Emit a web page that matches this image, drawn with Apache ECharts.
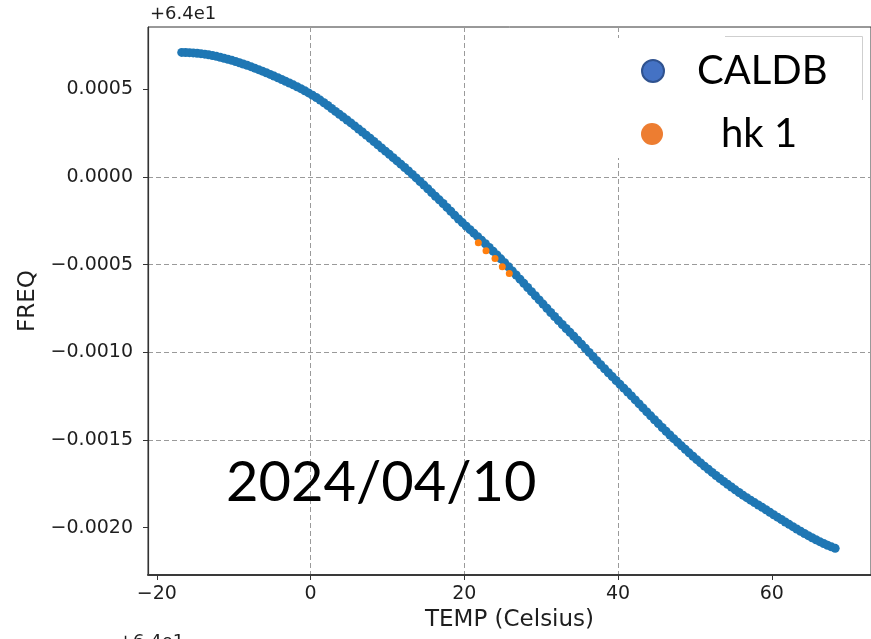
<!DOCTYPE html>
<html>
<head>
<meta charset="utf-8">
<script src="https://cdn.jsdelivr.net/npm/echarts@6/dist/echarts.min.js"></script>
<style>
  html, body { margin: 0; padding: 0; background: #fff; }
  #chart { width: 871px; height: 639px; }
</style>
</head>
<body>
<div id="chart"></div>
<script>
// Calibration table: oscillator frequency offset (relative to 64) vs. temperature
const caldbTemp = [
  -16.75, -16.25, -15.75, -15.25, -14.75, -14.25, -13.75, -13.25, -12.75, -12.25,
  -11.75, -11.25, -10.75, -10.25, -9.75, -9.25, -8.75, -8.25, -7.75, -7.25,
  -6.75, -6.25, -5.75, -5.25, -4.75, -4.25, -3.75, -3.25, -2.75, -2.25,
  -1.75, -1.25, -0.75, -0.25,
  0.25, 0.75, 1.25, 1.75, 2.25, 2.75, 3.25, 3.75, 4.25, 4.75,
  5.25, 5.75, 6.25, 6.75, 7.25, 7.75, 8.25, 8.75, 9.25, 9.75,
  10.25, 10.75, 11.25, 11.75, 12.25, 12.75, 13.25, 13.75, 14.25, 14.75,
  15.25, 15.75, 16.25, 16.75, 17.25, 17.75, 18.25, 18.75, 19.25, 19.75,
  20.25, 20.75, 21.25, 21.75, 22.25, 22.75, 23.25, 23.75, 24.25, 24.75,
  25.25, 25.75, 26.25, 26.75, 27.25, 27.75, 28.25, 28.75, 29.25, 29.75,
  30.25, 30.75, 31.25, 31.75, 32.25, 32.75, 33.25, 33.75, 34.25, 34.75,
  35.25, 35.75, 36.25, 36.75, 37.25, 37.75, 38.25, 38.75, 39.25, 39.75,
  40.25, 40.75, 41.25, 41.75, 42.25, 42.75, 43.25, 43.75, 44.25, 44.75,
  45.25, 45.75, 46.25, 46.75, 47.25, 47.75, 48.25, 48.75, 49.25, 49.75,
  50.25, 50.75, 51.25, 51.75, 52.25, 52.75, 53.25, 53.75, 54.25, 54.75,
  55.25, 55.75, 56.25, 56.75, 57.25, 57.75, 58.25, 58.75, 59.25, 59.75,
  60.25, 60.75, 61.25, 61.75, 62.25, 62.75, 63.25, 63.75, 64.25, 64.75,
  65.25, 65.75, 66.25, 66.75, 67.25, 67.75, 68.25
];
const caldbFreq = [
  0.0007101, 0.0007095, 0.0007085, 0.0007071, 0.0007052, 0.0007030, 0.0007000, 0.0006962, 0.0006921, 0.0006876,
  0.0006826, 0.0006771, 0.0006713, 0.0006651, 0.0006583, 0.0006512, 0.0006440, 0.0006366, 0.0006287, 0.0006204,
  0.0006119, 0.0006030, 0.0005939, 0.0005845, 0.0005750, 0.0005653, 0.0005554, 0.0005454, 0.0005354, 0.0005251,
  0.0005144, 0.0005033, 0.0004916, 0.0004793,
  0.0004664, 0.0004527, 0.0004383, 0.0004232, 0.0004072, 0.0003904, 0.0003738, 0.0003576, 0.0003412, 0.0003247,
  0.0003079, 0.0002908, 0.0002735, 0.0002561, 0.0002384, 0.0002205, 0.0002022, 0.0001837, 0.0001653, 0.0001471,
  0.0001287, 0.0001101, 0.0000915, 0.0000727, 0.0000536, 0.0000342, 0.0000145, -0.0000054, -0.0000258, -0.0000466,
  -0.0000677, -0.0000891, -0.0001100, -0.0001306, -0.0001518, -0.0001738, -0.0001958, -0.0002181, -0.0002396, -0.0002604,
  -0.0002808, -0.0003007, -0.0003207, -0.0003407, -0.0003608, -0.0003810, -0.0004018, -0.0004232, -0.0004450, -0.0004672,
  -0.0004897, -0.0005125, -0.0005358, -0.0005595, -0.0005831, -0.0006068, -0.0006304, -0.0006541, -0.0006778, -0.0007014,
  -0.0007252, -0.0007491, -0.0007728, -0.0007962, -0.0008192, -0.0008417, -0.0008640, -0.0008863, -0.0009085, -0.0009307,
  -0.0009535, -0.0009769, -0.0010005, -0.0010241, -0.0010476, -0.0010710, -0.0010940, -0.0011165, -0.0011387, -0.0011607,
  -0.0011826, -0.0012046, -0.0012266, -0.0012489, -0.0012714, -0.0012942, -0.0013170, -0.0013398, -0.0013623, -0.0013846,
  -0.0014067, -0.0014286, -0.0014503, -0.0014717, -0.0014926, -0.0015131, -0.0015334, -0.0015533, -0.0015732, -0.0015928,
  -0.0016121, -0.0016309, -0.0016493, -0.0016672, -0.0016850, -0.0017027, -0.0017198, -0.0017363, -0.0017526, -0.0017685,
  -0.0017842, -0.0017996, -0.0018146, -0.0018291, -0.0018432, -0.0018569, -0.0018706, -0.0018843, -0.0018981, -0.0019121,
  -0.0019261, -0.0019400, -0.0019538, -0.0019675, -0.0019811, -0.0019945, -0.0020077, -0.0020208, -0.0020336, -0.0020458,
  -0.0020576, -0.0020690, -0.0020800, -0.0020906, -0.0021003, -0.0021095, -0.0021180
];

// Housekeeping readings
const hkTemp = [21.83, 22.83, 24.0, 24.95, 25.86];
const hkFreq = [-0.000376, -0.000421, -0.000465, -0.000512, -0.000550];

const seriesNames = ['CALDB', 'hk 1'];
const xTicks = [-20, 0, 20, 40, 60];
const yTicks = [-0.002, -0.0015, -0.001, -0.0005, 0, 0.0005];
const xTitle = 'TEMP (Celsius)';
const yTitle = 'FREQ';
const offsetText = '+6.4e1';
const dateText = '2024/04/10';

const pairs = (xs, ys) => xs.map((x, i) => [x, ys[i]]);
const fmtY = v => {
  const r = Math.round(v * 1e4) / 1e4;
  return (r < 0 ? '\u2212' : '') + Math.abs(r).toFixed(4);
};
const fmtX = v => (v < 0 ? '\u2212' : '') + Math.abs(v);

const axisFont = { fontFamily: 'DejaVu Sans', fontSize: 19, color: '#1e1e1e' };
const titleFont = { fontFamily: 'DejaVu Sans', fontSize: 23, color: '#1e1e1e' };
const gridLine = { show: true, showMinLine: false, showMaxLine: false,
  lineStyle: { color: '#9a9a9a', width: 1, type: [5, 3] } };

const chart = echarts.init(document.getElementById('chart'), null, { renderer: 'canvas' });
chart.setOption({
  animation: false,
  backgroundColor: '#fff',
  grid: { left: 148, right: 0, top: 27, bottom: 64, show: true,
          borderColor: '#333', borderWidth: 1, backgroundColor: 'transparent' },
  xAxis: {
    type: 'value', min: -21.14, max: 72.91, splitNumber: 5,
    axisLine: { show: true, onZero: false, lineStyle: { color: '#3a3a3a', width: 2 } },
    axisTick: { show: true, customValues: xTicks, length: 5, lineStyle: { color: '#333' } },
    axisLabel: { customValues: xTicks, formatter: fmtX, margin: 10, ...axisFont },
    splitLine: gridLine,
    name: xTitle, nameLocation: 'middle', nameGap: 34, nameTextStyle: titleFont
  },
  yAxis: {
    type: 'value', min: -0.00227, max: 0.000855, splitNumber: 5,
    axisLine: { show: true, onZero: false, lineStyle: { color: '#333', width: 1.2 } },
    axisTick: { show: true, customValues: yTicks, length: 5, lineStyle: { color: '#333' } },
    axisLabel: { customValues: yTicks, formatter: fmtY, margin: 15, ...axisFont },
    splitLine: gridLine,
    name: yTitle, nameLocation: 'middle', nameGap: 106, nameRotate: 90, nameTextStyle: titleFont
  },
  legend: [
    {
      data: [{ name: seriesNames[0], icon: 'circle',
               itemStyle: { color: '#4472C4', borderColor: '#2F528F', borderWidth: 2 } }],
      left: 636, top: 44, itemWidth: 22, itemHeight: 22, z: 10,
      textStyle: { fontFamily: 'Lato', fontSize: 40, color: '#000', lineHeight: 44, padding: [0, 0, 0, 28] }
    },
    {
      data: [{ name: seriesNames[1], icon: 'circle',
               itemStyle: { color: '#ED7D31', borderWidth: 0 } }],
      left: 636, top: 107, itemWidth: 22, itemHeight: 22, z: 10,
      textStyle: { fontFamily: 'Lato', fontSize: 40, color: '#000', lineHeight: 44, padding: [0, 0, 0, 53] }
    }
  ],
  graphic: [
    { type: 'rect', z: 3, shape: { x: 618, y: 38, width: 244, height: 120 },
      style: { fill: '#fff' } },
    { type: 'polyline', z: 4, shape: { points: [[725, 36.5], [862.5, 36.5], [862.5, 100]] },
      style: { stroke: '#cfcfcf', lineWidth: 1, fill: null } },
    { type: 'text', z: 5, left: 150, top: 5,
      style: { text: offsetText, font: '18px "DejaVu Sans"', fill: '#1e1e1e' } },
    { type: 'text', z: 5, left: 118, top: 633,
      style: { text: offsetText, font: '18px "DejaVu Sans"', fill: '#1e1e1e' } },
    { type: 'text', z: 5, left: 226, top: 455,
      style: { text: dateText, font: '56px Lato', fill: '#000' } }
  ],
  series: [
    {
      name: seriesNames[0], type: 'scatter', data: pairs(caldbTemp, caldbFreq),
      symbolSize: 9, itemStyle: { color: '#1f77b4', opacity: 1 }, z: 2
    },
    {
      name: seriesNames[1], type: 'scatter', data: pairs(hkTemp, hkFreq),
      symbolSize: 7, itemStyle: { color: '#ff7f0e', opacity: 1 }, z: 3
    }
  ]
});
</script>
</body>
</html>
